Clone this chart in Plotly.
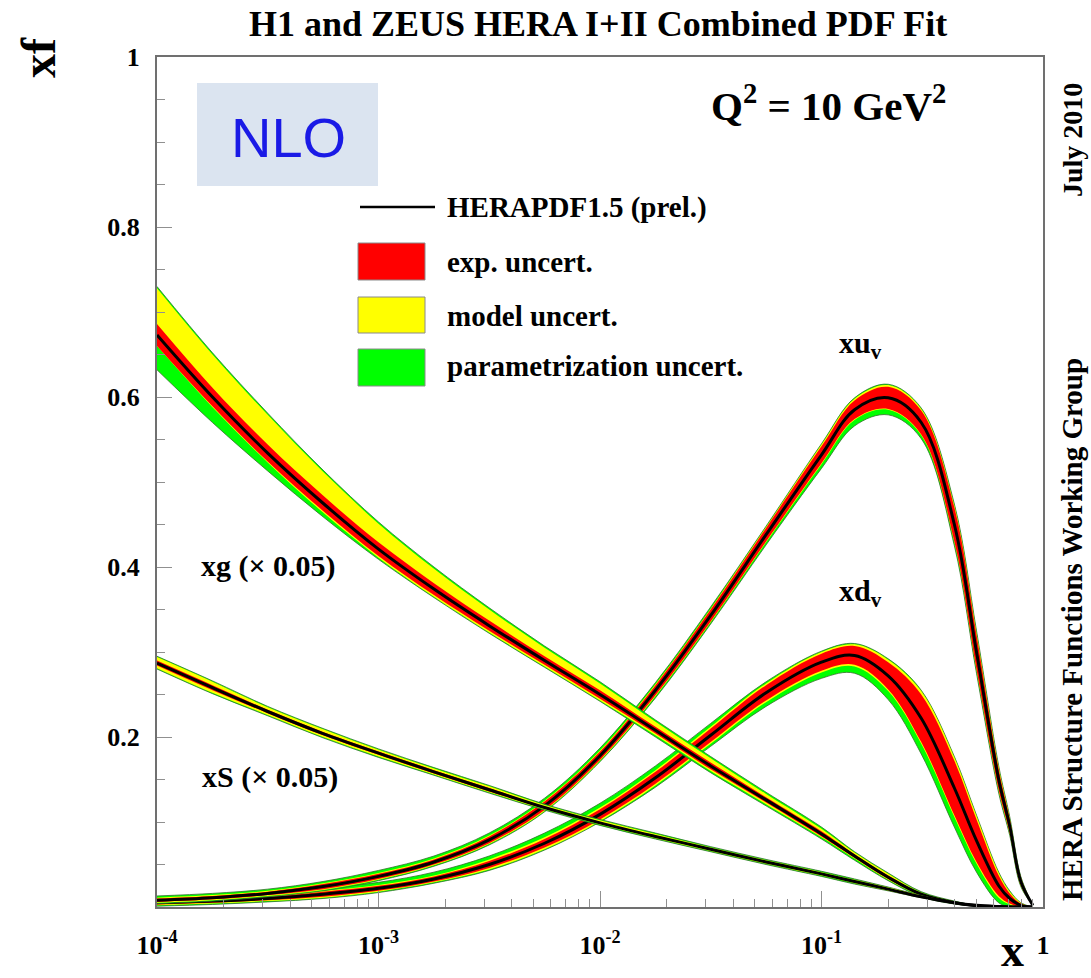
import numpy as np
import plotly.graph_objects as go

# ---------------- data ----------------
x = [1e-4, 1.78e-4, 3.16e-4, 5.62e-4, 1e-3, 1.78e-3, 3.16e-3, 5.62e-3, 0.01, 0.0178,
     0.0316, 0.0562, 0.1, 0.141, 0.2, 0.282, 0.398, 0.501, 0.631, 0.708, 0.794, 0.9]

# xu_v
xuv_c = [0.008, 0.011, 0.016, 0.024, 0.036, 0.053, 0.079, 0.119, 0.178, 0.255,
         0.343, 0.438, 0.532, 0.585, 0.599, 0.570, 0.450, 0.300, 0.150, 0.095, 0.030, 0.002]
xuv_exp = [0.002, 0.002, 0.002, 0.003, 0.003, 0.003, 0.004, 0.005, 0.005, 0.006,
           0.007, 0.008, 0.010, 0.011, 0.013, 0.014, 0.020, 0.020, 0.012, 0.008, 0.004, 0.0]
xuv_mod_up = [0.001, 0.001, 0.001, 0.001, 0.001, 0.001, 0.001, 0.001, 0.001, 0.001,
              0.001, 0.001, 0.002, 0.002, 0.002, 0.002, 0.002, 0.002, 0.002, 0.001, 0.001, 0.0]
xuv_mod_dn = [0.001, 0.001, 0.001, 0.001, 0.001, 0.001, 0.001, 0.001, 0.001, 0.001,
              0.001, 0.001, 0.001, 0.001, 0.001, 0.001, 0.001, 0.001, 0.001, 0.001, 0.001, 0.0]
xuv_par_up = [0.002, 0.002, 0.002, 0.002, 0.003, 0.003, 0.003, 0.003, 0.003, 0.002,
              0.002, 0.001, 0.001, 0.001, 0.001, 0.001, 0.002, 0.003, 0.002, 0.002, 0.001, 0.0]
xuv_par_dn = [0.001, 0.001, 0.001, 0.001, 0.001, 0.001, 0.001, 0.001, 0.001, 0.002,
              0.002, 0.003, 0.005, 0.007, 0.006, 0.004, 0.004, 0.004, 0.003, 0.002, 0.001, 0.0]

# xd_v
xdv_c = [0.005, 0.007, 0.010, 0.015, 0.022, 0.033, 0.050, 0.075, 0.109, 0.152,
         0.202, 0.252, 0.288, 0.296, 0.272, 0.222, 0.140, 0.078, 0.025, 0.010, 0.002, 0.0]
xdv_exp = [0.002, 0.002, 0.002, 0.003, 0.003, 0.003, 0.004, 0.005, 0.006, 0.007,
           0.008, 0.009, 0.010, 0.011, 0.016, 0.028, 0.032, 0.025, 0.012, 0.006, 0.002, 0.0]
xdv_mod_up = [0.001, 0.001, 0.001, 0.001, 0.001, 0.001, 0.002, 0.002, 0.002, 0.002,
              0.002, 0.002, 0.002, 0.002, 0.003, 0.004, 0.004, 0.004, 0.003, 0.002, 0.001, 0.0]
xdv_mod_dn = [0.001, 0.001, 0.001, 0.001, 0.001, 0.001, 0.002, 0.002, 0.002, 0.002,
              0.002, 0.002, 0.002, 0.002, 0.002, 0.002, 0.002, 0.002, 0.002, 0.001, 0.001, 0.0]
xdv_par_up = [0.002, 0.002, 0.003, 0.003, 0.003, 0.004, 0.004, 0.005, 0.005, 0.005,
              0.004, 0.002, 0.001, 0.001, 0.001, 0.001, 0.001, 0.001, 0.001, 0.001, 0.0, 0.0]
xdv_par_dn = [0.001, 0.001, 0.001, 0.001, 0.001, 0.001, 0.001, 0.001, 0.001, 0.002,
              0.003, 0.005, 0.007, 0.008, 0.010, 0.012, 0.012, 0.010, 0.006, 0.003, 0.001, 0.0]

# xg (x 0.05)
xg_c = [0.673, 0.600, 0.534, 0.475, 0.421, 0.374, 0.331, 0.290, 0.250, 0.208,
        0.166, 0.126, 0.086, 0.060, 0.035, 0.015, 0.005, 0.0015, 0.0005, 0.0, 0.0, 0.0]
xg_exp = [0.013, 0.011, 0.010, 0.009, 0.008, 0.007, 0.006, 0.005, 0.005, 0.004,
          0.004, 0.003, 0.003, 0.002, 0.002, 0.001, 0.001, 0.0005, 0.0, 0.0, 0.0, 0.0]
xg_mod_up = [0.042, 0.039, 0.035, 0.028, 0.022, 0.017, 0.013, 0.010, 0.008, 0.006,
             0.005, 0.004, 0.003, 0.002, 0.002, 0.001, 0.0005, 0.0, 0.0, 0.0, 0.0, 0.0]
xg_mod_dn = [0.0, 0.001, 0.001, 0.002, 0.002, 0.002, 0.002, 0.002, 0.002, 0.002,
             0.002, 0.002, 0.001, 0.001, 0.001, 0.001, 0.0, 0.0, 0.0, 0.0, 0.0, 0.0]
xg_par_up = [0.002, 0.002, 0.002, 0.002, 0.002, 0.002, 0.002, 0.002, 0.002, 0.002,
             0.002, 0.002, 0.002, 0.001, 0.001, 0.001, 0.0005, 0.0, 0.0, 0.0, 0.0, 0.0]
xg_par_dn = [0.028, 0.018, 0.010, 0.005, 0.002, 0.001, 0.001, 0.001, 0.001, 0.002,
             0.002, 0.002, 0.002, 0.002, 0.001, 0.001, 0.0005, 0.0, 0.0, 0.0, 0.0, 0.0]

# xS (x 0.05)
xs_c = [0.287, 0.258, 0.230, 0.204, 0.181, 0.159, 0.138, 0.117, 0.099, 0.083,
        0.068, 0.053, 0.039, 0.030, 0.021, 0.012, 0.005, 0.002, 0.0005, 0.0, 0.0, 0.0]
xs_exp = [0.003, 0.003, 0.002, 0.002, 0.002, 0.002, 0.002, 0.001, 0.001, 0.001,
          0.001, 0.001, 0.001, 0.001, 0.001, 0.001, 0.0005, 0.0, 0.0, 0.0, 0.0, 0.0]
xs_mod_up = [0.004, 0.004, 0.003, 0.003, 0.002, 0.002, 0.002, 0.002, 0.002, 0.002,
             0.001, 0.001, 0.001, 0.001, 0.001, 0.0005, 0.0, 0.0, 0.0, 0.0, 0.0, 0.0]
xs_mod_dn = [0.003, 0.003, 0.002, 0.002, 0.002, 0.001, 0.001, 0.001, 0.001, 0.001,
             0.001, 0.001, 0.001, 0.001, 0.0005, 0.0, 0.0, 0.0, 0.0, 0.0, 0.0, 0.0]
xs_par_up = [0.001, 0.001, 0.001, 0.001, 0.001, 0.001, 0.001, 0.001, 0.001, 0.001,
             0.001, 0.001, 0.001, 0.001, 0.0005, 0.0, 0.0, 0.0, 0.0, 0.0, 0.0, 0.0]
xs_par_dn = [0.001, 0.001, 0.001, 0.001, 0.001, 0.001, 0.001, 0.001, 0.001, 0.001,
             0.001, 0.001, 0.001, 0.001, 0.0005, 0.0, 0.0, 0.0, 0.0, 0.0, 0.0, 0.0]

x_tickvals = [1e-4, 1e-3, 1e-2, 1e-1, 1]
x_ticktext = ["10<sup>-4</sup>", "10<sup>-3</sup>", "10<sup>-2</sup>", "10<sup>-1</sup>", "1"]
y_tickvals = [0.2, 0.4, 0.6, 0.8, 1.0]
y_ticktext = ["0.2", "0.4", "0.6", "0.8", "1"]

# ---------------- figure ----------------
RED, YEL, GRN = "#ff0000", "#ffff00", "#00ff00"
EDGE = "rgb(50,110,40)"
SERIF = "Liberation Serif"

fig = go.Figure()


def add_pdf(c, e, mu, md, pu, pd):
    c = np.array(c); e = np.array(e)
    mu = np.array(mu); md = np.array(md); pu = np.array(pu); pd = np.array(pd)
    red_hi, red_lo = c + e, c - e
    yel_hi, yel_lo = red_hi + mu, red_lo - md
    grn_hi, grn_lo = yel_hi + pu, yel_lo - pd
    for lo, hi, col, lw, lc in [(grn_lo, grn_hi, GRN, 0.8, EDGE),
                                (yel_lo, yel_hi, YEL, 0, YEL),
                                (red_lo, red_hi, RED, 0, RED)]:
        fig.add_trace(go.Scatter(x=x, y=lo, mode="lines", showlegend=False, hoverinfo="skip",
                                 line=dict(width=lw, color=lc, shape="spline", smoothing=1.0)))
        fig.add_trace(go.Scatter(x=x, y=hi, mode="lines", fill="tonexty", fillcolor=col,
                                 showlegend=False, hoverinfo="skip",
                                 line=dict(width=lw, color=lc, shape="spline", smoothing=1.0)))
    fig.add_trace(go.Scatter(x=x, y=c, mode="lines", showlegend=False, hoverinfo="skip",
                             line=dict(width=3, color="black", shape="spline", smoothing=1.0)))


add_pdf(xdv_c, xdv_exp, xdv_mod_up, xdv_mod_dn, xdv_par_up, xdv_par_dn)
add_pdf(xuv_c, xuv_exp, xuv_mod_up, xuv_mod_dn, xuv_par_up, xuv_par_dn)
add_pdf(xg_c, xg_exp, xg_mod_up, xg_mod_dn, xg_par_up, xg_par_dn)
add_pdf(xs_c, xs_exp, xs_mod_up, xs_mod_dn, xs_par_up, xs_par_dn)

# plot area in pixels: x 157..1043, y 57..907
L, R, T, B = 157, 1043, 57, 907
W, H = R - L, B - T


def px(xp):
    return (xp - L) / W


def py(yp):
    return (B - yp) / H


shapes = []
annots = []


def text(xc, yc, txt, size, family=SERIF, color="black", angle=0, xanchor="center",
         yanchor="middle"):
    annots.append(dict(x=px(xc), y=py(yc), xref="paper", yref="paper", text=txt,
                       showarrow=False, xanchor=xanchor, yanchor=yanchor, textangle=angle,
                       font=dict(family=family, size=size, color=color)))


# NLO box
shapes.append(dict(type="rect", xref="paper", yref="paper", x0=px(197), x1=px(378),
                   y0=py(186), y1=py(83), fillcolor="#dbe4f0", line=dict(width=0), layer="below"))
text(288, 137, "NLO", 56, family="Liberation Sans", color="#1a1ae6")

# legend
shapes.append(dict(type="line", xref="paper", yref="paper", x0=px(360), x1=px(435),
                   y0=py(207), y1=py(207), line=dict(color="black", width=2.5)))
for (y0, y1, col) in [(243, 280, RED), (297, 333, YEL), (349, 386, GRN)]:
    shapes.append(dict(type="rect", xref="paper", yref="paper", x0=px(358), x1=px(425),
                       y0=py(y1), y1=py(y0), fillcolor=col, line=dict(color="#8a8a8a", width=1)))
for (yc, txt) in [(207, "HERAPDF1.5 (prel.)"), (262, "exp. uncert."),
                  (316, "model uncert."), (366, "parametrization uncert.")]:
    text(445, yc, "<b>%s</b>" % txt, 29, xanchor="left")

# curve labels
text(860, 345, "<b>xu<sub>v</sub></b>", 30)
text(860, 593, "<b>xd<sub>v</sub></b>", 30)
text(268, 566, "<b>xg (× 0.05)</b>", 30)
text(270, 777, "<b>xS (× 0.05)</b>", 30)

# Q2 label
text(828, 103, "<b>Q<sup>2</sup> = 10 GeV<sup>2</sup></b>", 41)

# title
text(598, 24, "<b>H1 and ZEUS HERA I+II Combined PDF Fit</b>", 36)

# axis titles
text(38, 58, "<b>xf</b>", 48, angle=-90)
text(1012, 978, "<b>x</b>", 46, yanchor="bottom")

# right side labels
text(1072, 140, "<b>July 2010</b>", 28, angle=-90)
text(1072, 630, "<b>HERA Structure Functions Working Group</b>", 29, angle=-90)

minor_x = [m * 10.0 ** d for d in range(-4, 0) for m in range(2, 10)]

fig.update_layout(
    width=1091, height=978,
    margin=dict(l=L, r=1091 - R, t=T, b=978 - B),
    paper_bgcolor="white", plot_bgcolor="white",
    shapes=shapes, annotations=annots, showlegend=False,
    xaxis=dict(type="log", range=[-4, 0], showgrid=False, zeroline=False,
               showline=True, mirror=True, linecolor="#707070", linewidth=2,
               ticks="inside", ticklen=16, tickwidth=1, tickcolor="#909090",
               tickmode="array", tickvals=x_tickvals, ticktext=x_ticktext,
               tickfont=dict(family=SERIF, size=26, color="black", weight="bold"),
               ticklabelstandoff=14,
               minor=dict(tickmode="array", tickvals=minor_x, ticks="inside", ticklen=8,
                          tickwidth=1, tickcolor="#909090", showgrid=False)),
    yaxis=dict(range=[0, 1], showgrid=False, zeroline=False,
               showline=True, mirror=True, linecolor="#707070", linewidth=2,
               ticks="inside", ticklen=15, tickwidth=1, tickcolor="#909090",
               tickmode="array", tickvals=y_tickvals, ticktext=y_ticktext,
               tickfont=dict(family=SERIF, size=26, color="black", weight="bold"),
               ticklabelstandoff=10,
               minor=dict(dtick=0.05, ticks="inside", ticklen=8, tickwidth=1,
                          tickcolor="#909090", showgrid=False)),
)

fig.write_html("out.html")
